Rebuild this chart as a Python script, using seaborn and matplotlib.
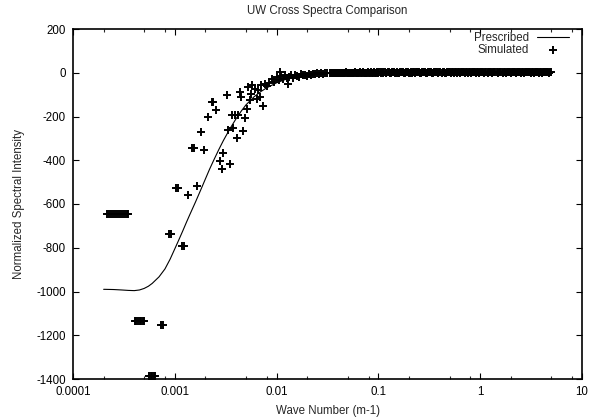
import numpy as np
import pandas as pd
import matplotlib
matplotlib.use("Agg")
import matplotlib.pyplot as plt
import seaborn as sns
from matplotlib.ticker import FixedLocator, FuncFormatter, NullFormatter

# ---------------- data ----------------
presc_k = [0.0002, 0.00025, 0.0003, 0.00035, 0.0004, 0.00045, 0.0005, 0.00055, 0.0006, 0.0007,
           0.0008, 0.0009, 0.0010, 0.0011, 0.0012, 0.0013, 0.0014, 0.0016, 0.0018, 0.0020,
           0.0022, 0.0024, 0.0027, 0.0030, 0.0035, 0.0040, 0.0045, 0.0050, 0.0060, 0.0070,
           0.0080, 0.0100, 0.0120, 0.0150, 0.0200, 0.0300, 0.0500, 0.1000, 1.0, 5.0]
presc_v = [-990, -991, -993, -995, -996, -993, -986, -976, -963, -933,
           -897, -852, -805, -762, -722, -684, -650, -590, -535, -485,
           -440, -402, -352, -310, -254, -210, -175, -147, -110, -86,
           -69, -46, -32, -20, -11, -4, -1, 0, 0, 0]

# simulated: low wave numbers (clusters and scattered transition)
sim_low_k = [0.000214, 0.000224, 0.000234, 0.000245, 0.000257, 0.000269, 0.000282, 0.000295,
             0.000309, 0.000324, 0.000339, 0.000350,
             0.000405, 0.000420, 0.000436, 0.000452, 0.000468, 0.000485, 0.000500,
             0.000560, 0.000580, 0.000600, 0.000620, 0.000640,
             0.000735, 0.000760, 0.000885, 0.000910, 0.00103, 0.00107, 0.00119, 0.00123,
             0.00136, 0.00149, 0.00155, 0.00166, 0.00181, 0.00195, 0.00213, 0.00230, 0.00237,
             0.00253, 0.00278, 0.00290, 0.00299, 0.00323, 0.00336, 0.00349, 0.00363, 0.00376,
             0.00391, 0.00411, 0.00422, 0.00437, 0.00450, 0.00471, 0.00489, 0.00511, 0.00527,
             0.00549, 0.00555, 0.00568, 0.00610, 0.00640, 0.00660, 0.00680, 0.00710, 0.00730,
             0.00770, 0.00800, 0.00850, 0.00900, 0.00950]
sim_low_v = [-645, -645, -645, -645, -645, -645, -645, -645,
             -645, -645, -645, -645,
             -1135, -1135, -1135, -1135, -1135, -1135, -1135,
             -1388, -1388, -1388, -1388, -1388,
             -1155, -1155, -736, -736, -529, -529, -791, -791,
             -560, -345, -345, -518, -273, -354, -201, -135, -135,
             -169, -403, -441, -368, -101, -262, -416, -192, -253,
             -192, -296, -192, -89, -109, -268, -207, -166, -66,
             -123, -97, -58, -74, -120, -81, -109, -58, -150,
             -51, -60, -45, -30, -40]

# simulated: approach to zero
sim_mid_k = [0.0100, 0.0105, 0.0108, 0.0110, 0.0115, 0.0120, 0.0126, 0.0130, 0.0132, 0.0138,
             0.0145, 0.0151, 0.0158, 0.0166, 0.0174, 0.0182, 0.0191, 0.0200, 0.0209, 0.0219,
             0.0229, 0.0240, 0.0251, 0.0263, 0.0275, 0.0288, 0.0302, 0.0316]
sim_mid_v = [-20, -35, 3, -15, -28, -10, -22, -51, -18, -12,
             -25, -8, -15, -20, -6, -12, -9, -15, -5, -8,
             -4, -6, -3, -5, -2, -4, -1, -3]

# simulated: plateau
sim_high_k = [0.0331, 0.0347, 0.0363, 0.0380, 0.0398, 0.0417, 0.0437, 0.0457, 0.0479, 0.0501,
              0.0525, 0.0550, 0.0575, 0.0603, 0.0631, 0.0661, 0.0692, 0.0724, 0.0759, 0.0794,
              0.0832, 0.0871, 0.0912, 0.0955,
              0.100, 0.105, 0.110, 0.115, 0.120, 0.126, 0.132, 0.138, 0.145, 0.151,
              0.158, 0.166, 0.174, 0.182, 0.191, 0.200, 0.209, 0.219, 0.229, 0.240,
              0.251, 0.263, 0.275, 0.288, 0.302, 0.316, 0.331, 0.347, 0.363, 0.380,
              0.398, 0.417, 0.437, 0.457, 0.479, 0.501, 0.525, 0.550, 0.575, 0.603,
              0.631, 0.661, 0.692, 0.724, 0.759, 0.794, 0.832, 0.871, 0.912, 0.955,
              1.00, 1.05, 1.10, 1.15, 1.20, 1.26, 1.32, 1.38, 1.45, 1.51,
              1.58, 1.66, 1.74, 1.82, 1.91, 2.00, 2.09, 2.19, 2.29, 2.40,
              2.51, 2.63, 2.75, 2.88, 3.02, 3.16, 3.31, 3.47, 3.63, 3.80,
              3.98, 4.17, 4.37, 4.57, 4.79, 5.01]
sim_high_v = [-2, 0, -3, -1, 1, -2, 0, -1, 2, -1,
              0, 1, -2, 1, 0, 2, -1, 1, 0, 2,
              1, 0, 2, 1,
              1, 2, 0, 3, 1, 2, 1, 3, 0, 2,
              1, 2, 3, 1, 2, 0, 2, 3, 1, 2,
              2, 1, 3, 2, 1, 2, 3, 1, 2, 2,
              3, 1, 2, 1, 3, 2, 2, 1, 3, 2,
              1, 2, 3, 2, 1, 3, 2, 2, 1, 3,
              2, 3, 1, 2, 3, 2, 1, 2, 3, 2,
              3, 1, 2, 2, 3, 1, 2, 3, 2, 2,
              1, 3, 2, 2, 3, 1, 2, 3, 2, 1,
              2, 3, 2, 2, 1, 3]

# simulated: plateau, in-between wave numbers
sim_high2_k = [0.0339, 0.0355, 0.0372, 0.0389, 0.0407, 0.0427, 0.0447, 0.0468, 0.0490, 0.0513,
               0.0537, 0.0562, 0.0589, 0.0617, 0.0646, 0.0676, 0.0708, 0.0741, 0.0776, 0.0813,
               0.0851, 0.0891, 0.0933, 0.0977,
               0.102, 0.107, 0.112, 0.118, 0.123, 0.129, 0.135, 0.141, 0.148, 0.155,
               0.162, 0.170, 0.178, 0.186, 0.195, 0.204, 0.214, 0.224, 0.234, 0.246,
               0.257, 0.269, 0.282, 0.295, 0.309, 0.324, 0.339, 0.355, 0.372, 0.389,
               0.407, 0.427, 0.447, 0.468, 0.490, 0.513, 0.537, 0.562, 0.589, 0.617,
               0.646, 0.676, 0.708, 0.741, 0.776, 0.813, 0.851, 0.891, 0.933, 0.977,
               1.02, 1.07, 1.12, 1.18, 1.23, 1.29, 1.35, 1.41, 1.48, 1.55,
               1.62, 1.70, 1.78, 1.86, 1.95, 2.04, 2.14, 2.24, 2.34, 2.46,
               2.57, 2.69, 2.82, 2.95, 3.09, 3.24, 3.39, 3.55, 3.72, 3.89,
               4.07, 4.27, 4.47, 4.68, 4.90]
sim_high2_v = [-1, -3, 0, -2, -1, 0, 1, -2, 0, 1,
               -1, 0, 2, 0, 1, -1, 2, 0, 1, 1,
               2, 1, 0, 2,
               2, 1, 3, 0, 2, 1, 3, 2, 1, 1,
               3, 2, 1, 2, 3, 1, 1, 2, 3, 2,
               1, 3, 2, 1, 2, 2, 1, 3, 2, 1,
               2, 3, 1, 2, 2, 1, 3, 2, 1, 2,
               3, 2, 1, 2, 3, 1, 2, 3, 2, 1,
               3, 2, 2, 1, 3, 2, 2, 3, 1, 2,
               2, 3, 1, 3, 2, 2, 3, 1, 2, 3,
               2, 1, 3, 2, 2, 3, 1, 2, 2, 3,
               1, 2, 3, 2, 2]

x_ticks = [0.0001, 0.001, 0.01, 0.1, 1, 10]
y_ticks = [200, 0, -200, -400, -600, -800, -1000, -1200, -1400]

assert len(presc_k) == len(presc_v)
assert len(sim_low_k) == len(sim_low_v), (len(sim_low_k), len(sim_low_v))
assert len(sim_mid_k) == len(sim_mid_v)
assert len(sim_high_k) == len(sim_high_v), (len(sim_high_k), len(sim_high_v))
assert len(sim_high2_k) == len(sim_high2_v), (len(sim_high2_k), len(sim_high2_v))

presc = pd.DataFrame({"k": presc_k, "v": presc_v})
sim = pd.DataFrame({"k": sim_low_k + sim_mid_k + sim_high_k + sim_high2_k,
                    "v": sim_low_v + sim_mid_v + sim_high_v + sim_high2_v})

# ---------------- style ----------------
sns.set_style("ticks")
plt.rcParams['font.family'] = ['Liberation Sans', 'DejaVu Sans']
plt.rcParams['axes.unicode_minus'] = False
FS = 8.3

fig = plt.figure(figsize=(5.95, 4.2), dpi=100)
ax = fig.add_axes([73/595, 1 - 379/420, (582 - 73)/595, (379 - 29)/420])

sns.lineplot(data=presc, x="k", y="v", color="black", linewidth=0.8, sort=False,
             estimator=None, ax=ax, label="Prescribed")
sns.scatterplot(data=sim, x="k", y="v", marker="+", color="black", s=30, linewidth=1.4,
                ax=ax, label="Simulated", zorder=3)

ax.set_xscale("log")
ax.set_xlim(1e-4, 10)
ax.set_ylim(-1400, 200)

ax.xaxis.set_major_locator(FixedLocator(x_ticks))
ax.xaxis.set_major_formatter(FuncFormatter(lambda v, p: "%g" % v))
minor = [m * d for d in [1e-4, 1e-3, 1e-2, 1e-1, 1] for m in (2, 5, 8)]
ax.xaxis.set_minor_locator(FixedLocator(minor))
ax.xaxis.set_minor_formatter(NullFormatter())
ax.yaxis.set_major_locator(FixedLocator(y_ticks))
ax.yaxis.set_minor_locator(FixedLocator([]))

for s in ax.spines.values():
    s.set_linewidth(1.2)
    s.set_color("black")
    s.set_visible(True)

ax.tick_params(which="major", direction="in", length=4.5, width=0.8, top=True, right=True,
               labelsize=FS, pad=5, colors="black")
ax.tick_params(which="minor", direction="in", length=2.5, width=0.8, top=True, right=True)

ax.set_xlabel("Wave Number (m-1)", fontsize=FS)
ax.set_ylabel("Normalized Spectral Intensity", fontsize=FS)
ax.xaxis.set_label_coords(0.5, -0.075)
ax.yaxis.set_label_coords(-0.095, 0.5)
fig.text(327/595, 1 - 11/420, "UW Cross Spectra Comparison", ha="center", va="center",
         fontsize=FS)

h, l = ax.get_legend_handles_labels()
ax.legend(h, l, loc="upper right", bbox_to_anchor=(569/595, 1 - 32/420),
          bbox_transform=fig.transFigure, frameon=False, markerfirst=False,
          fontsize=FS, handlelength=2.8, handletextpad=0.7, labelspacing=0.0,
          borderpad=0, borderaxespad=0)

fig.savefig("out.png", dpi=100)
